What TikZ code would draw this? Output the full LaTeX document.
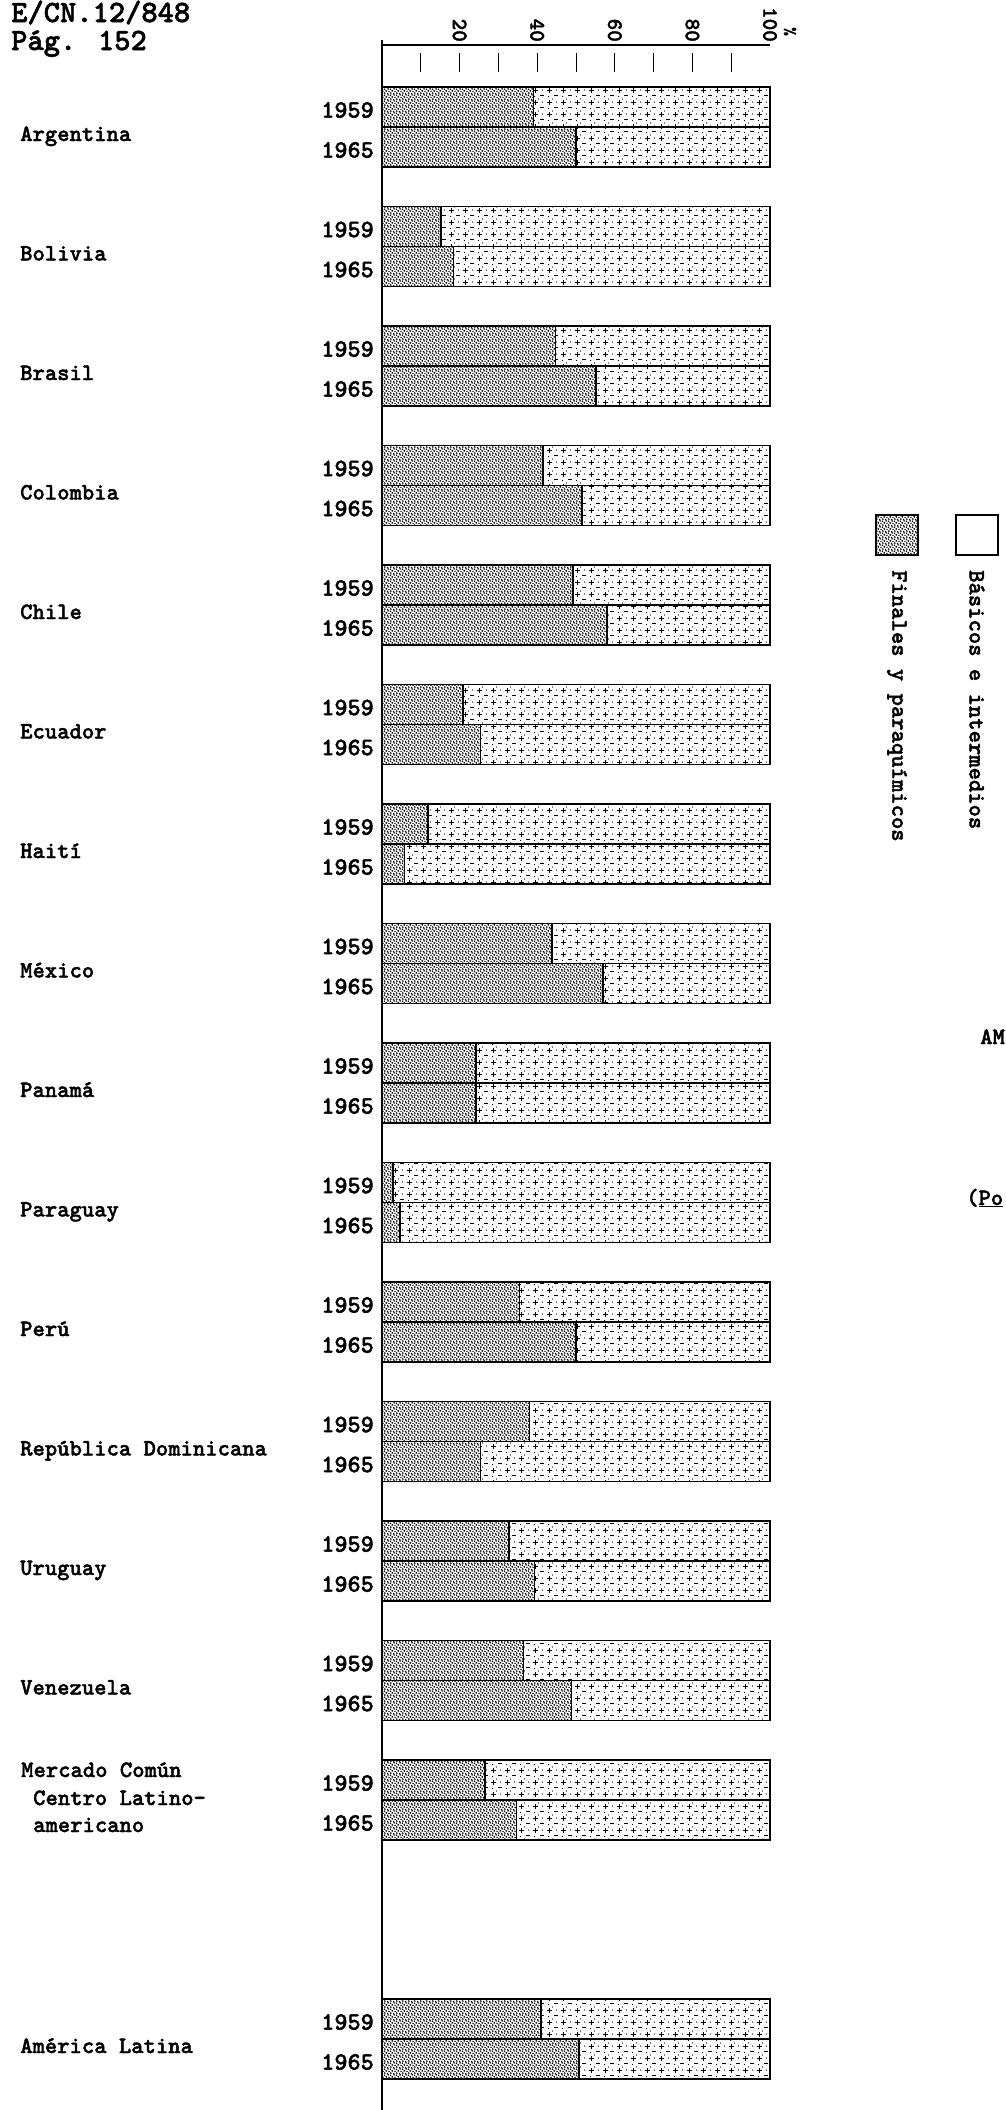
\documentclass[tikz,border=0pt]{standalone}
\usepackage{fontspec}
\newfontfamily\typew{lmmonolt10-bold.otf}[FakeBold=1.6]
\usetikzlibrary{patterns}

% dark stipple (Finales y paraquimicos)
\pgfdeclarepatternformonly{stipple}{\pgfpoint{-1pt}{-1pt}}{\pgfpoint{7pt}{7pt}}{\pgfpoint{6pt}{6pt}}{%
  \pgfpathcircle{\pgfpoint{0.8pt}{0.9pt}}{0.95pt}
  \pgfpathcircle{\pgfpoint{3.6pt}{0.4pt}}{0.85pt}
  \pgfpathcircle{\pgfpoint{2.2pt}{3.1pt}}{0.95pt}
  \pgfpathcircle{\pgfpoint{5.0pt}{2.6pt}}{0.85pt}
  \pgfpathcircle{\pgfpoint{0.5pt}{4.8pt}}{0.85pt}
  \pgfpathcircle{\pgfpoint{4.1pt}{5.1pt}}{0.95pt}
  \pgfusepath{fill}}
% light crosses and dashes (Basicos e intermedios)
\pgfdeclarepatternformonly{crossdash}{\pgfpoint{-1pt}{-1pt}}{\pgfpoint{15pt}{13pt}}{\pgfpoint{14pt}{12pt}}{%
  \pgfsetlinewidth{1pt}
  \pgfpathmoveto{\pgfpoint{1pt}{3.5pt}}\pgfpathlineto{\pgfpoint{6pt}{3.5pt}}
  \pgfpathmoveto{\pgfpoint{3.5pt}{1pt}}\pgfpathlineto{\pgfpoint{3.5pt}{6pt}}
  \pgfpathmoveto{\pgfpoint{8pt}{10pt}}\pgfpathlineto{\pgfpoint{12pt}{10pt}}
  \pgfusepath{stroke}
  \pgfpathcircle{\pgfpoint{10.5pt}{4pt}}{0.65pt}
  \pgfpathcircle{\pgfpoint{2.5pt}{9.5pt}}{0.65pt}
  \pgfpathcircle{\pgfpoint{6.5pt}{7pt}}{0.55pt}
  \pgfusepath{fill}}

\begin{document}
\begin{tikzpicture}[x=1pt,y=-1pt,
  country/.style={anchor=base west, inner sep=0pt, font=\typew\fontsize{23.5}{28}\selectfont},
  year/.style={anchor=east, inner sep=0pt, font=\typew\fontsize{25}{30}\selectfont},
  scalelbl/.style={anchor=east, rotate=-90, inner sep=0pt, font=\typew\fontsize{22}{26}\selectfont},
  legendlbl/.style={anchor=west, rotate=-90, inner sep=0pt, font=\typew\fontsize{23.5}{28}\selectfont},
  finales/.style={pattern=stipple},
  basicos/.style={pattern=crossdash},
  barline/.style={line width=1.1pt},
  ]
  % Page
  \fill[white] (0,0) rectangle (1005,2110);
  \useasboundingbox (0,0) rectangle (1005,2110);
  \def\xo{382}
  \def\xe{770}
  % Header
  \node[anchor=base west, inner sep=0pt, font=\typew\fontsize{31}{36}\selectfont] (doc) at (11,22) {E/CN.12/848};
  \node[anchor=base west, inner sep=0pt, font=\typew\fontsize{31}{36}\selectfont] (pag) at (11,50) {Pág. 152};
  % Percentage scale
  \draw[barline] (\xo,45) -- (\xe,45);
  \foreach \k in {1,...,9} {
    \draw[line width=1pt] (\xo+38.8*\k,53) -- (\xo+38.8*\k,72);
  }
  \foreach \v in {20,40,60,80,100} {
    \node[scalelbl] (s\v) at (\xo+3.88*\v,42) {\v};
  }
  \node[scalelbl, font=\typew\fontsize{16}{18}\selectfont] (pct) at (790,36) {\%};
  % Bars: group / finales 1959 / finales 1965
  \foreach \i/\a/\b in {0/39/50, 1/15.2/18.4, 2/44.7/55.2, 3/41.5/51.5,
      4/49.2/58, 5/20.8/25.4, 6/11.9/5.8, 7/43.8/57, 8/24.2/24.2,
      9/2.8/4.6, 10/35.4/50, 11/38/25.4, 12/32.7/39.3, 13/36.5/48.8,
      14/26.5/34.7, 16/41/50.7} {
    \pgfmathsetmacro\yt{87+119.5*\i}
    \pgfmathsetmacro\xa{\xo+3.88*\a}
    \pgfmathsetmacro\xb{\xo+3.88*\b}
    \fill[finales] (\xo,\yt) rectangle (\xa,\yt+40);
    \fill[basicos] (\xa,\yt) rectangle (\xe,\yt+40);
    \fill[finales] (\xo,\yt+40) rectangle (\xb,\yt+80);
    \fill[basicos] (\xb,\yt+40) rectangle (\xe,\yt+80);
    \draw[barline] (\xo,\yt) rectangle (\xe,\yt+80);
    \draw[barline] (\xo,\yt+40) -- (\xe,\yt+40);
    \draw[line width=1.6pt] (\xa,\yt) -- (\xa,\yt+40);
    \draw[line width=1.6pt] (\xb,\yt+40) -- (\xb,\yt+80);
    \node[year] (ya\i) at (374,\yt+23) {1959};
    \node[year] (yb\i) at (374,\yt+63) {1965};
  }
  % Left axis
  \draw[line width=1.2pt] (\xo,40) -- (\xo,2110);
  % Countries
  \foreach \i/\nm/\txt in {0/arg/Argentina, 1/bol/Bolivia, 2/bra/Brasil,
      3/col/Colombia, 4/chi/Chile, 5/ecu/Ecuador, 6/hai/Haití,
      7/mex/México, 8/pan/Panamá, 9/par/Paraguay, 10/per/Perú,
      11/rdo/República Dominicana, 12/uru/Uruguay, 13/ven/Venezuela,
      16/ala/América Latina} {
    \node[country] (\nm) at (20,87+119.5*\i+54) {\txt};
  }
  \node[country] (mcca) at (21,1777) {Mercado Común};
  \node[country] (mccb) at (33,1805) {Centro Latino-};
  \node[country] (mccc) at (33,1832) {americano};
  % Legend
  \fill[finales] (876,515) rectangle (918,555);
  \draw[barline] (876,515) rectangle (918,555);
  \draw[barline] (956,515) rectangle (998,555);
  \node[legendlbl] (fin) at (897,570) {Finales y paraquímicos};
  \node[legendlbl] (bas) at (977,570) {Básicos e intermedios};
  % Title, at the page edge
  \node[anchor=base west, inner sep=0pt, font=\typew\fontsize{23.5}{28}\selectfont] (ttl) at (980,1044) {AM};
  \node[anchor=base west, inner sep=0pt, font=\typew\fontsize{23.5}{28}\selectfont] (unit) at (966,1205) {(\underline{Po}};
\end{tikzpicture}
\end{document}
